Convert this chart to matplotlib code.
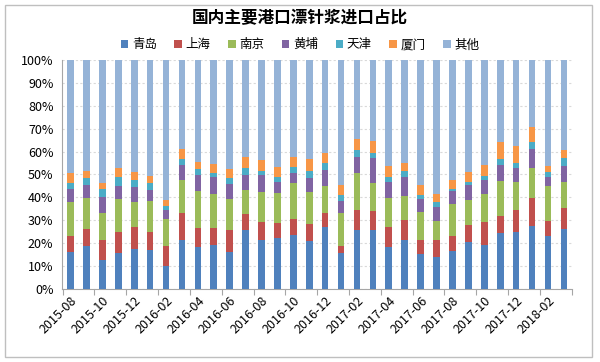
import numpy as np
import matplotlib
matplotlib.use("Agg")
import matplotlib.pyplot as plt
from matplotlib.patches import Rectangle

plt.rcParams['font.family'] = ['Noto Sans CJK SC', 'DejaVu Sans']

months = ["2015-08", "2015-09", "2015-10", "2015-11", "2015-12", "2016-01",
          "2016-02", "2016-03", "2016-04", "2016-05", "2016-06", "2016-07",
          "2016-08", "2016-09", "2016-10", "2016-11", "2016-12", "2017-01",
          "2017-02", "2017-03", "2017-04", "2017-05", "2017-06", "2017-07",
          "2017-08", "2017-09", "2017-10", "2017-11", "2017-12", "2018-01",
          "2018-02", "2018-03"]

# 各港口占比(%)
qingdao = [16.0, 18.9, 12.8, 15.7, 17.4, 16.9, 10.2, 21.2, 18.3, 19.3, 16.0, 25.9,
           21.5, 22.1, 23.5, 20.8, 27.0, 15.7, 25.9, 25.9, 18.3, 21.5, 15.1, 14.0,
           16.4, 20.3, 19.3, 24.4, 25.0, 27.3, 23.0, 26.2]
shanghai = [7.0, 7.4, 8.7, 9.3, 9.6, 7.8, 8.7, 11.9, 8.2, 7.4, 9.6, 6.9,
            7.6, 6.7, 7.0, 7.7, 6.1, 3.2, 8.4, 8.0, 8.7, 8.4, 6.1, 7.2,
            6.6, 7.8, 9.8, 7.3, 9.3, 12.4, 6.5, 9.0]
nanjing = [14.8, 13.4, 11.6, 14.2, 10.8, 13.5, 11.6, 14.3, 16.1, 14.9, 13.6, 10.2,
           13.1, 13.1, 15.7, 13.7, 11.7, 14.2, 16.3, 12.3, 12.7, 10.8, 12.2, 8.3,
           13.9, 10.6, 12.5, 15.4, 12.6, 13.1, 15.6, 11.7]
huangpu = [5.8, 5.8, 6.9, 5.8, 6.7, 5.1, 3.8, 6.7, 7.3, 7.5, 6.7, 6.9,
           7.7, 4.6, 4.4, 6.1, 7.2, 5.1, 7.2, 10.9, 7.2, 8.4, 5.8, 6.3,
           5.7, 6.8, 5.8, 7.1, 5.9, 8.5, 4.0, 6.9]
tianjin = [2.6, 2.9, 3.6, 4.1, 3.2, 2.9, 2.0, 2.6, 2.7, 1.5, 2.4, 2.9,
           1.8, 2.6, 2.6, 3.4, 3.2, 2.8, 2.7, 2.5, 1.9, 2.6, 1.8, 2.0,
           1.0, 1.4, 2.0, 2.5, 2.4, 2.9, 2.2, 3.3]
xiamen = [4.4, 3.3, 2.6, 3.6, 3.6, 3.2, 2.4, 4.3, 2.9, 4.1, 4.0, 4.8,
          4.7, 4.1, 4.4, 5.0, 4.4, 4.5, 4.9, 5.2, 5.0, 3.5, 4.2, 3.8,
          3.8, 4.4, 4.8, 7.3, 7.3, 6.4, 2.2, 3.7]

names = ["青岛", "上海", "南京", "黄埔", "天津", "厦门", "其他"]
colors = ["#4F81BD", "#C0504D", "#9BBB59", "#8064A2", "#4BACC6", "#F79646", "#95B3D7"]

ports = np.array([qingdao, shanghai, nanjing, huangpu, tianjin, xiamen])
others = 100 - ports.sum(axis=0)
series = list(ports) + [others]

fig = plt.figure(figsize=(6, 3.62), dpi=100)
ax = fig.add_axes([0.103, 0.202, 0.850, 0.632])

x = np.arange(len(months))
bottom = np.zeros(len(months))
for vals, name, c in zip(series, names, colors):
    ax.bar(x, vals, 0.42, bottom=bottom, color=c, label=name, zorder=3)
    bottom = bottom + vals

ax.set_ylim(0, 100)
ax.set_xlim(-0.55, 31.5)
ax.set_yticks(np.arange(0, 101, 10))
ax.set_yticklabels(["%d%%" % v for v in range(0, 101, 10)], fontsize=9)
ax.yaxis.grid(True, color="#d9d9d9", linestyle=(0, (2, 2)), linewidth=0.8, zorder=0)
ax.tick_params(axis="y", length=0, pad=6)

ax.set_xticks(np.arange(-0.5, 32, 2), minor=False)
ax.set_xticklabels([])
ax.set_xticks(x[::2], minor=True)
ax.set_xticklabels(months[::2], minor=True, rotation=45, ha="right",
                   rotation_mode="anchor", fontsize=9)
ax.tick_params(axis="x", which="major", length=4, color="#a6a6a6", direction="out")
ax.tick_params(axis="x", which="minor", length=0, pad=4)

for s in ["top", "right"]:
    ax.spines[s].set_visible(False)
for s in ["left", "bottom"]:
    ax.spines[s].set_color("#a6a6a6")

fig.text(0.5, 0.95, "国内主要港口漂针浆进口占比", ha="center", va="center",
         fontsize=12, fontweight="bold")
fig.legend(loc="center", bbox_to_anchor=(0.5, 0.876), ncol=7, frameon=False,
           fontsize=9, handlelength=0.6, handleheight=0.6, handletextpad=0.3,
           columnspacing=1.4)

fig.patches.append(Rectangle((5 / 600, 1 - 357 / 362), 587 / 600, 352 / 362,
                             transform=fig.transFigure, fill=False,
                             edgecolor="#bfbfbf", linewidth=1))

fig.savefig("out.png", dpi=100)
